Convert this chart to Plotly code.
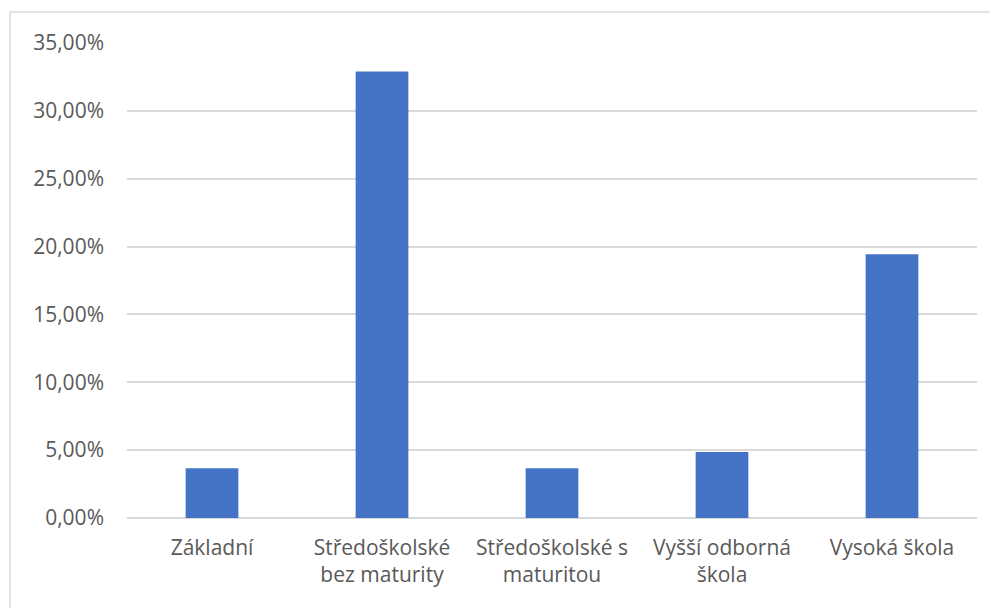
import plotly.graph_objects as go

categories = ["Základní", "Středoškolské<br>bez maturity", "Středoškolské s<br>maturitou",
              "Vyšší odborná<br>škola", "Vysoká škola"]
values = [0.0366, 0.3290, 0.0366, 0.0487, 0.1943]
tick_vals = [0, 0.05, 0.10, 0.15, 0.20, 0.25, 0.30, 0.35]
tick_text = ["0,00%", "5,00%", "10,00%", "15,00%", "20,00%", "25,00%", "30,00%", "35,00%"]

W, H = 998, 608
OFF = 8  # browser body margin
L, R, T, B = 127 - OFF, 21 + OFF, 43 - OFF, 90 + OFF
pw, ph = W - L - R, H - T - B

fig = go.Figure(go.Bar(x=categories, y=values, marker_color="#4472C4",
                       marker_line_width=0))

fig.update_layout(
    width=W, height=H,
    margin=dict(l=L, r=R, t=T, b=B, pad=0, autoexpand=False),
    paper_bgcolor="white", plot_bgcolor="white",
    bargap=0.69,
    showlegend=False,
    font=dict(family="Open Sans, Noto Sans, sans-serif", size=21, color="#595959"),
    xaxis=dict(showgrid=False, showline=False, ticks="", ticklabelstandoff=15,
               tickfont=dict(size=21, color="#595959")),
    yaxis=dict(range=[0, 0.35], tickvals=tick_vals, ticktext=tick_text,
               showgrid=True, gridcolor="#d9d9d9", gridwidth=1.5,
               zeroline=True, zerolinecolor="#d9d9d9", zerolinewidth=1.5,
               showline=False, ticks="", ticklabelstandoff=22,
               tickfont=dict(size=21, color="#595959")),
    shapes=[dict(type="rect", xref="paper", yref="paper",
                 x0=(10 - 127) / pw, x1=(W + 40 - 127) / pw,
                 y0=-(H + 40 - 518) / ph, y1=(518 - 12) / ph,
                 line=dict(color="#d9d9d9", width=1.5), fillcolor="rgba(0,0,0,0)",
                 layer="below")],
)

fig.write_html("out.html")
